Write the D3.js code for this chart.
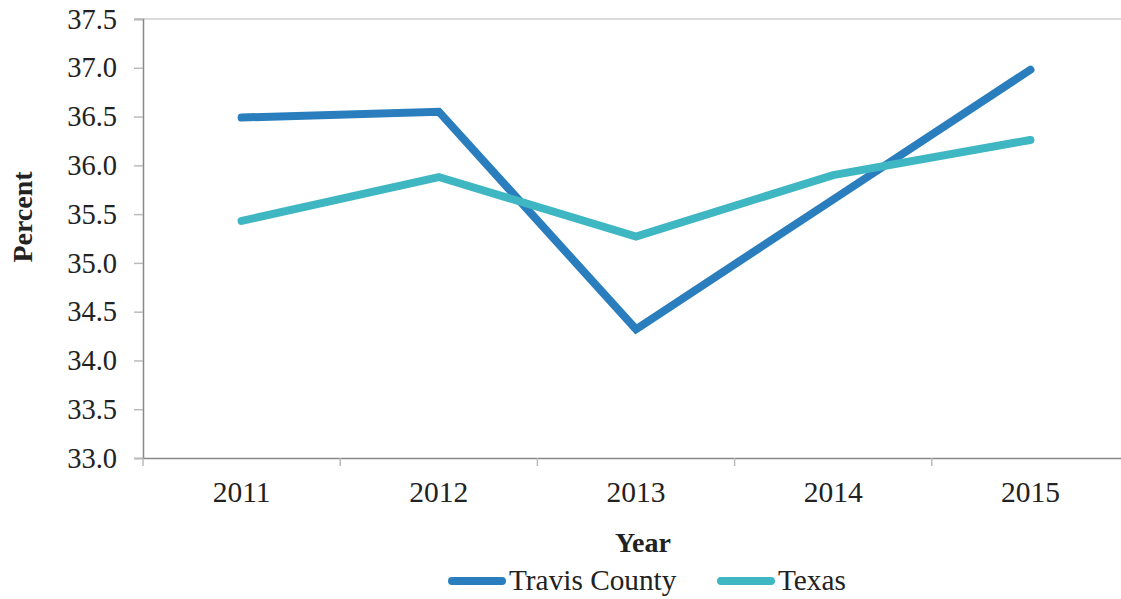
<!DOCTYPE html>
<html>
<head>
<meta charset="utf-8">
<script src="https://cdn.jsdelivr.net/npm/d3@7"></script>
<style>
  body { margin: 0; background: #fff; }
  text { fill: #222; }
</style>
</head>
<body>
<div id="chart"></div>
<script>
var years = ["2011", "2012", "2013", "2014", "2015"];
var travis = [36.49, 36.55, 34.32, 35.65, 36.98];
var texas = [35.43, 35.88, 35.27, 35.90, 36.26];
var yTicks = [33.0, 33.5, 34.0, 34.5, 35.0, 35.5, 36.0, 36.5, 37.0, 37.5];
var seriesNames = ["Travis County", "Texas"];
var colors = ["#2a7ebd", "#3fb7c3"];

var serif = "'Times New Roman', Times, 'Liberation Serif', Tinos, serif";

var width = 1121, height = 599;
var margin = {top: 19, right: -8, bottom: 141, left: 143};
var plotW = width - margin.left - margin.right,
    plotH = height - margin.top - margin.bottom;

var svg = d3.select("#chart")
  .append("svg")
    .attr("width", width)
    .attr("height", height)
    .style("font-family", serif);

var g = svg.append("g")
    .attr("transform", "translate(" + margin.left + "," + margin.top + ")");

var x = d3.scaleBand()
  .domain(years)
  .range([0, plotW]);

var y = d3.scaleLinear()
  .domain([33, 37.5])
  .range([plotH, 0]);

// top gridline
g.append("line")
  .attr("x1", -9).attr("x2", plotW)
  .attr("y1", y(37.5)).attr("y2", y(37.5))
  .style("stroke", "#cfcfcf")
  .style("stroke-width", 1.5);

// Y axis
var yAxis = g.append("g")
  .call(d3.axisLeft(y).tickValues(yTicks).tickSize(9).tickPadding(17).tickFormat(d3.format(".1f")));
yAxis.attr("font-family", null);
yAxis.select(".domain").style("stroke", "#888").style("stroke-width", 1.5);
yAxis.selectAll(".tick line").style("stroke", "#bbb").style("stroke-width", 1.5);
yAxis.selectAll("text").style("font-size", "28.5px").style("fill", "#222")
  .style("font-family", serif);

// X axis
var xAxis = g.append("g")
  .attr("transform", "translate(0," + plotH + ")")
  .call(d3.axisBottom(x).tickSize(0).tickPadding(23));
xAxis.attr("font-family", null);
xAxis.select(".domain").style("stroke", "#888").style("stroke-width", 1.5);
xAxis.selectAll("text").style("font-size", "29.5px").style("fill", "#222")
  .style("font-family", serif);

// x ticks at band edges
g.append("g").selectAll("line")
  .data(years)
  .enter().append("line")
  .attr("x1", function(d) { return x(d); })
  .attr("x2", function(d) { return x(d); })
  .attr("y1", plotH)
  .attr("y2", plotH + 8)
  .style("stroke", "#bbb")
  .style("stroke-width", 1.5);

// lines
var line = d3.line()
  .x(function(d, i) { return x(years[i]) + x.bandwidth() / 2; })
  .y(function(d) { return y(d); });

[travis, texas].forEach(function(s, i) {
  g.append("path")
    .datum(s)
    .attr("d", line)
    .style("fill", "none")
    .style("stroke", colors[i])
    .style("stroke-width", 8)
    .style("stroke-linecap", "round")
    .style("stroke-linejoin", "miter");
});

// axis titles
svg.append("text")
  .attr("x", 643)
  .attr("y", 552)
  .attr("text-anchor", "middle")
  .style("font-weight", "bold")
  .style("font-size", "28px")
  .text("Year");

svg.append("text")
  .attr("transform", "translate(32,217) rotate(-90)")
  .attr("text-anchor", "middle")
  .style("font-weight", "bold")
  .style("font-size", "28px")
  .text("Percent");

// legend
var legendX = [448, 717];
var legend = svg.append("g");
seriesNames.forEach(function(name, i) {
  legend.append("line")
    .attr("x1", legendX[i] + 4).attr("x2", legendX[i] + 54)
    .attr("y1", 581).attr("y2", 581)
    .style("stroke", colors[i])
    .style("stroke-width", 8)
    .style("stroke-linecap", "round");
  legend.append("text")
    .attr("x", legendX[i] + 61)
    .attr("y", 590)
    .style("font-size", "29.3px")
    .text(name);
});
</script>
</body>
</html>
